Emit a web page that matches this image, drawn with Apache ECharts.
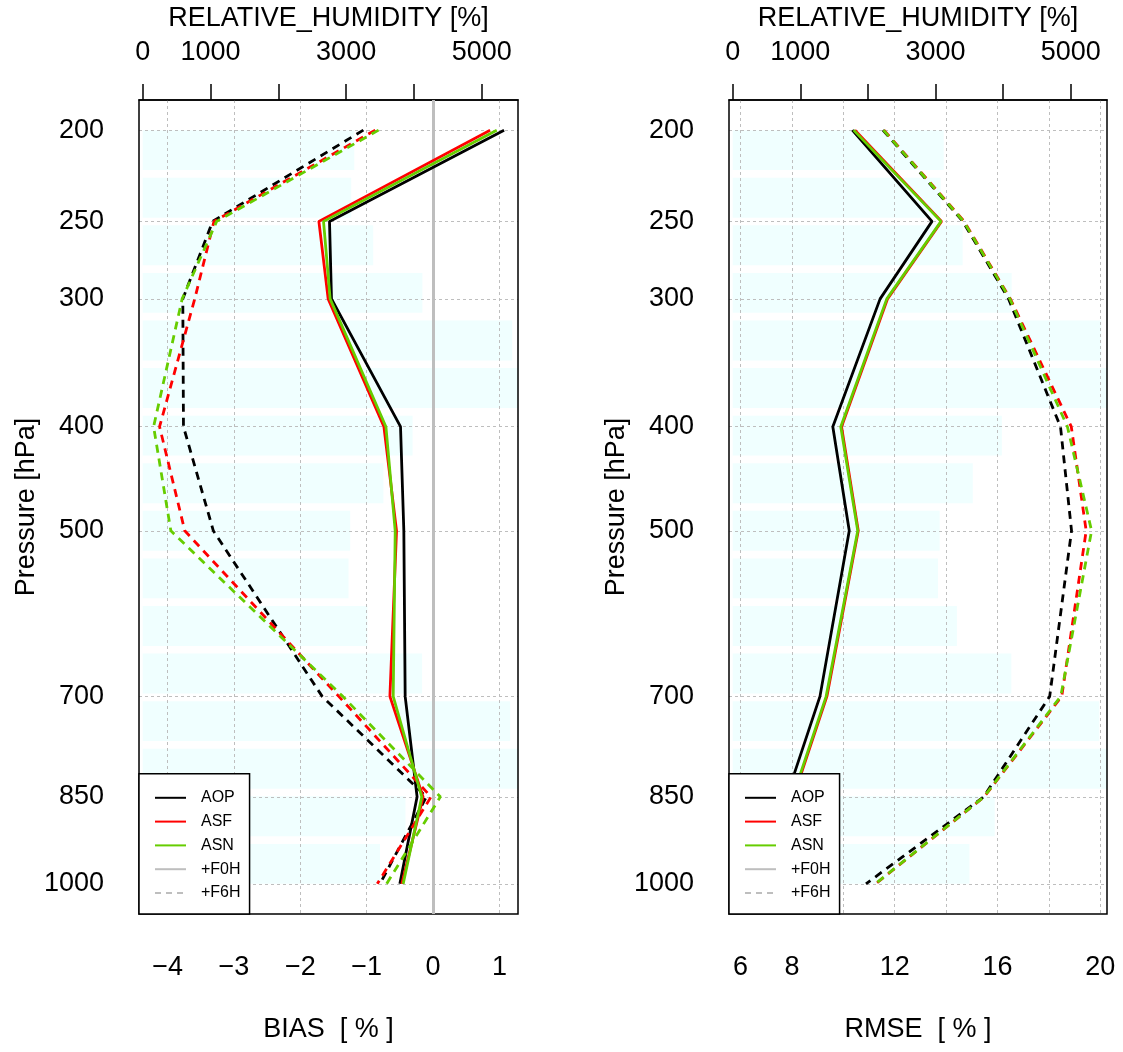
<!DOCTYPE html>
<html>
<head>
<meta charset="utf-8">
<title>RELATIVE_HUMIDITY BIAS / RMSE</title>
<script src="https://cdn.jsdelivr.net/npm/echarts@6/dist/echarts.min.js"></script>
<style>
html,body{margin:0;padding:0;background:#fff}
#main{width:1123px;height:1052px}
</style>
</head>
<body>
<div id="main"></div>
<script>
// pressure levels [hPa]
var levels = [200, 250, 300, 400, 500, 700, 850, 1000];

// BIAS [%]  (+F0H solid, +F6H dashed)
var biasAopF0 = [1.07, -1.56, -1.53, -0.49, -0.44, -0.42, -0.24, -0.50];
var biasAsfF0 = [0.86, -1.72, -1.58, -0.74, -0.55, -0.65, -0.15, -0.47];
var biasAsnF0 = [0.96, -1.65, -1.55, -0.71, -0.57, -0.60, -0.17, -0.45];
var biasAopF6 = [-1.05, -3.32, -3.77, -3.76, -3.31, -1.67, -0.10, -0.80];
var biasAsfF6 = [-0.87, -3.30, -3.59, -4.12, -3.74, -1.42, -0.03, -0.84];
var biasAsnF6 = [-0.82, -3.26, -3.78, -4.21, -3.95, -1.36, 0.11, -0.70];

// RMSE [%]
var rmseAopF0 = [10.35, 13.45, 11.43, 9.59, 10.23, 9.09, 7.79, 6.90];
var rmseAsfF0 = [10.45, 13.82, 11.72, 9.93, 10.58, 9.36, 8.06, 7.15];
var rmseAsnF0 = [10.40, 13.80, 11.69, 9.90, 10.56, 9.33, 8.03, 7.12];
var rmseAopF6 = [11.54, 14.65, 16.43, 18.45, 18.88, 18.03, 15.46, 10.88];
var rmseAsfF6 = [11.58, 14.70, 16.50, 18.87, 19.45, 18.50, 15.48, 11.26];
var rmseAsnF6 = [11.56, 14.68, 16.48, 18.72, 19.66, 18.46, 15.47, 11.24];

// number of observations per layer, top (200 hPa) to bottom (1000 hPa)
var layerIds = ['1','2','3','4','5','6','7','8','9','10','11','12','13','14','15','16'];
var obsCount = [3120, 3075, 3400, 4125, 5450, 5560, 3980, 3550, 3060, 3035, 3315, 4120, 5420, 5560, 3875, 3500];

// axis ticks / labels
var biasTicks = [-4, -3, -2, -1, 0, 1];
var rmseTicks = [6, 8, 10, 12, 14, 16, 18, 20];
var rmseLabels = [6, 8, 12, 16, 20];
var countTicks = [0, 1000, 2000, 3000, 4000, 5000];
var countLabels = [0, 1000, 3000, 5000];

var legendNames = ['AOP', 'ASF', 'ASN', '+F0H', '+F6H'];
var colAop = '#000000', colAsf = '#FF0000', colAsn = '#66CD00', colGrey = '#BEBEBE';
var font = 'Liberation Sans, Arial, Helvetica, sans-serif';

// standard atmosphere height, used as vertical scale
function p2h(p){ return 44330.8 * (1 - Math.pow(p / 1013.25, 0.190263)); }
function h2p(h){ return 1013.25 * Math.pow(1 - h / 44330.8, 1 / 0.190263); }
var levelH = levels.map(p2h);
var hTop = p2h(200), hBot = p2h(1000), hSpan = hTop - hBot;
var yMin = hBot - 0.04 * hSpan, yMax = hTop + 0.04 * hSpan;

// layout
var boxTop = 100, boxH = 814;
var panels = [{left: 139, width: 379}, {left: 729, width: 378}];
var pad = boxH * 0.04 / 1.08;
var pitch = (boxH - 2 * pad) / 15.84;
var barTop = boxTop + pad - 0.08 * pitch;
var barH = 16 * pitch;

function minus(v){ return String(v).replace('-', '\u2212'); }

var gridLine = {show: true, lineStyle: {color: colGrey, type: [3, 3], width: 1}};

var grids = [], xAxes = [], yAxes = [], series = [];

panels.forEach(function(pn, k){
  var gi = k * 2, bi = k * 2 + 1;
  grids.push({left: pn.left, top: boxTop, width: pn.width, height: boxH, show: true,
    borderColor: '#000', borderWidth: 1.5, backgroundColor: 'transparent', z: 4});
  grids.push({left: pn.left, top: barTop, width: pn.width, height: barH, show: false});

  var isBias = k === 0;
  xAxes.push({
    gridIndex: gi, type: 'value', position: 'bottom', z: 3,
    min: isBias ? -4.43 : 5.55, max: isBias ? 1.28 : 20.26,
    name: isBias ? 'BIAS  [ % ]' : 'RMSE  [ % ]', nameLocation: 'middle', nameGap: 102,
    nameTextStyle: {fontSize: 27, color: '#000', fontFamily: font},
    axisLine: {show: false},
    axisTick: {show: false, customValues: isBias ? biasTicks : rmseTicks},
    axisLabel: {customValues: isBias ? biasTicks : rmseLabels, fontSize: 27, color: '#000',
      margin: 40, fontFamily: font, formatter: minus},
    splitLine: gridLine
  });
  xAxes.push({
    gridIndex: bi, type: 'value', position: 'top', min: -55, max: 5535,
    offset: barTop - boxTop,
    name: 'RELATIVE_HUMIDITY [%]', nameLocation: 'middle', nameGap: 68,
    nameTextStyle: {fontSize: 27, color: '#000', fontFamily: font},
    axisLine: {show: true, lineStyle: {color: '#000', width: 1.5}},
    axisTick: {show: true, inside: false, length: 16, customValues: countTicks,
      lineStyle: {color: '#000', width: 1.5}},
    axisLabel: {customValues: countLabels, fontSize: 27, color: '#000', margin: 34, fontFamily: font,
      formatter: function(v){ return String(v); }},
    splitLine: {show: false}
  });
  yAxes.push({
    gridIndex: gi, type: 'value', min: yMin, max: yMax, z: 3,
    name: 'Pressure [hPa]', nameLocation: 'middle', nameRotate: 90, nameGap: 98,
    nameTextStyle: {fontSize: 27, color: '#000', fontFamily: font},
    axisLine: {show: false},
    axisTick: {show: false, customValues: levelH},
    axisLabel: {customValues: levelH, fontSize: 27, color: '#000', margin: 35, fontFamily: font,
      formatter: function(v){ return String(Math.round(h2p(v))); }},
    splitLine: gridLine
  });
  yAxes.push({gridIndex: bi, type: 'category', data: layerIds, inverse: true, show: false});

  series.push({
    type: 'bar', xAxisIndex: bi, yAxisIndex: bi, data: obsCount, barCategoryGap: '16%',
    itemStyle: {color: '#F0FFFF'}, silent: true, z: 1
  });

  // legend-only entries for lead time line styles (F0H carries the zero line on BIAS)
  var f0 = {name: '+F0H', type: 'line', xAxisIndex: gi, yAxisIndex: gi, data: [], symbol: 'none', z: 4,
    lineStyle: {color: colGrey, width: 2}, itemStyle: {color: colGrey}};
  if (isBias) {
    f0.markLine = {silent: true, symbol: 'none', label: {show: false}, animation: false,
      lineStyle: {color: colGrey, width: 3, type: 'solid'}, data: [{xAxis: 0}]};
  }
  series.push(f0);
  series.push({name: '+F6H', type: 'line', xAxisIndex: gi, yAxisIndex: gi, data: [], symbol: 'none', z: 4,
    lineStyle: {color: colGrey, width: 2, type: [6, 5]}, itemStyle: {color: colGrey}});

  var sets = isBias
    ? [['AOP', biasAopF0, biasAopF6, colAop], ['ASF', biasAsfF0, biasAsfF6, colAsf], ['ASN', biasAsnF0, biasAsnF6, colAsn]]
    : [['AOP', rmseAopF0, rmseAopF6, colAop], ['ASF', rmseAsfF0, rmseAsfF6, colAsf], ['ASN', rmseAsnF0, rmseAsnF6, colAsn]];
  sets.forEach(function(s){
    [[s[1], false], [s[2], true]].forEach(function(v){
      series.push({
        name: v[1] ? s[0] + ' +F6H' : s[0], type: 'line', xAxisIndex: gi, yAxisIndex: gi,
        data: levels.map(function(p, i){ return [v[0][i], p2h(p)]; }),
        symbol: 'none', z: 5,
        lineStyle: {color: s[3], width: 2.8, type: v[1] ? [8, 6] : 'solid'},
        itemStyle: {color: s[3]}
      });
    });
  });
});

var legends = panels.map(function(pn){
  return {
    orient: 'vertical', left: pn.left, bottom: 1052 - (boxTop + boxH),
    data: legendNames, itemWidth: 31, itemHeight: 12, itemGap: 7.8,
    padding: [16, 9, 13, 15], backgroundColor: '#fff', borderColor: '#000', borderWidth: 1.5,
    itemStyle: {opacity: 0},
    lineStyle: {width: 2},
    textStyle: {fontSize: 16, color: '#000', padding: [0, 0, 0, 10], fontFamily: font},
    selectedMode: false, z: 6
  };
});

var myChart = echarts.init(document.getElementById('main'));
myChart.setOption({
  animation: false,
  backgroundColor: '#fff',
  textStyle: {fontFamily: font},
  grid: grids,
  xAxis: xAxes,
  yAxis: yAxes,
  legend: legends,
  series: series
});
</script>
</body>
</html>
